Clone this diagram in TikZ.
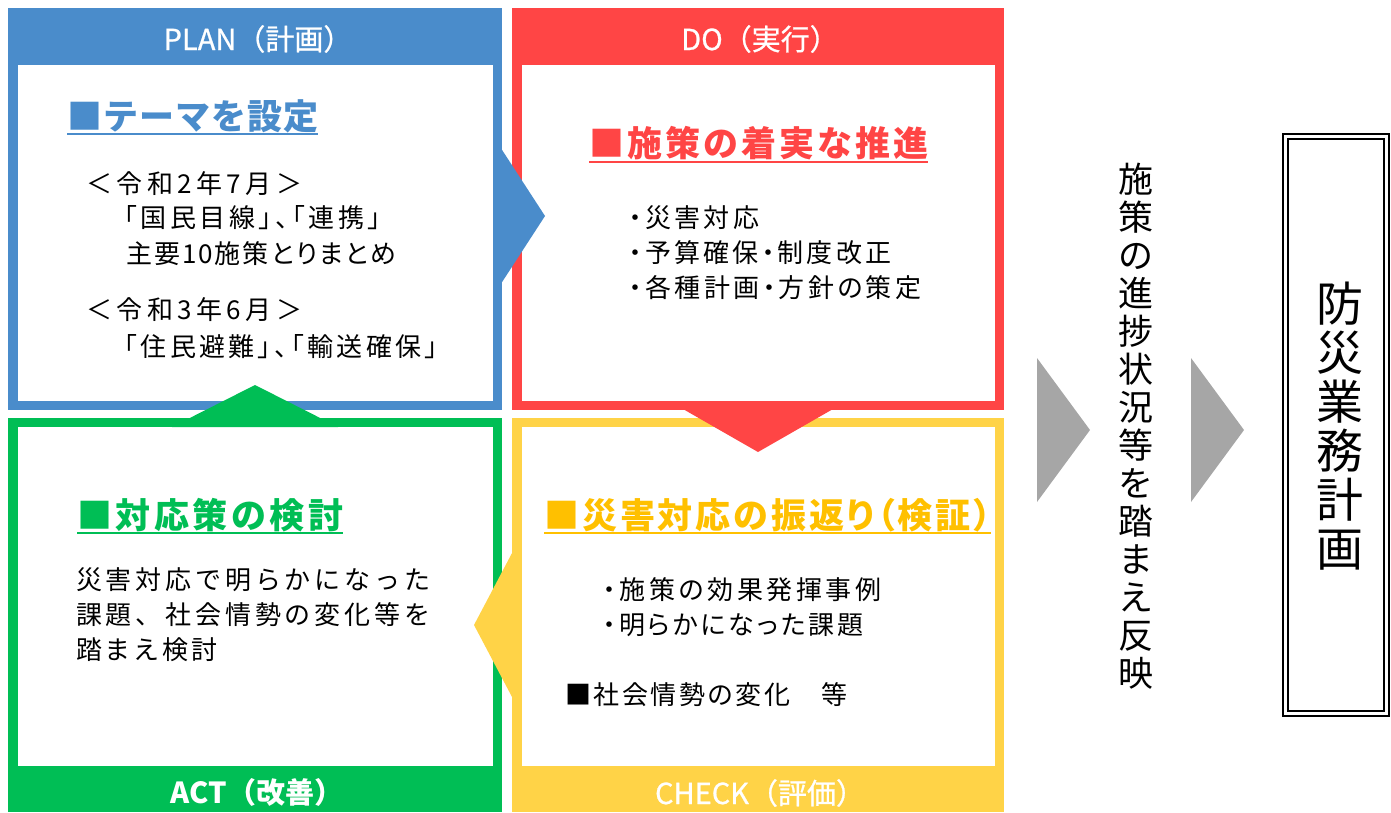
\documentclass[tikz,border=0pt]{standalone}
\usepackage{fontspec}
\setmainfont{Noto Sans CJK JP}
\newfontfamily\jpp{Noto Sans CJK JP}[RawFeature=+palt]
\newfontfamily\jpm{Noto Sans CJK JP}[FakeBold=0.8]
\usetikzlibrary{calc}
\definecolor{cblue}{HTML}{4A8CCB}
\definecolor{cred}{HTML}{FF4545}
\definecolor{cgreen}{HTML}{00BE55}
\definecolor{cyellow}{HTML}{FFD347}
\definecolor{cgold}{HTML}{FFC000}
\definecolor{cgrey}{HTML}{A6A6A6}
\makeatletter
\newcommand\spread[2]{\hbox to #1{\@tfor\tr@c:=#2\do{\tr@c\hfil}\unskip}}
\makeatother
\tikzset{
  outerbox/.style={anchor=north west,inner sep=0,outer sep=0},
  innerbox/.style={fill=white,anchor=north west,inner sep=0,outer sep=0},
  hdr/.style={text=white,inner sep=0,font=\jpm\fontsize{29}{32}\selectfont},
  ttl/.style={anchor=west,inner sep=0,font=\bfseries\fontsize{35}{40}\selectfont},
  bodyp/.style={anchor=west,inner sep=0,font=\jpp\fontsize{26}{30}\selectfont},
  bodyl/.style={anchor=west,inner sep=0,font=\fontsize{26}{30}\selectfont},
  ul/.style={line width=1.6pt}
}
\begin{document}
\begin{tikzpicture}[x=1pt,y=-1pt]
\useasboundingbox (0,0) rectangle (1391,812);
% boxes
\node[outerbox,fill=cblue,minimum width=494pt,minimum height=402pt] (plan) at (8,8) {};
\node[innerbox,minimum width=475pt,minimum height=336pt] (planin) at (18,65) {};
\node[outerbox,fill=cred,minimum width=492pt,minimum height=402pt] (do) at (512,8) {};
\node[innerbox,minimum width=473pt,minimum height=336pt] (doin) at (522,65) {};
\node[outerbox,fill=cgreen,minimum width=494pt,minimum height=394pt] (act) at (8,418) {};
\node[innerbox,minimum width=475pt,minimum height=339pt] (actin) at (18,427) {};
\node[outerbox,fill=cyellow,minimum width=492pt,minimum height=394pt] (check) at (512,418) {};
\node[innerbox,minimum width=473pt,minimum height=339pt] (checkin) at (522,427) {};
% cycle arrows
\fill[cblue] (493,136) -- (545,216) -- (493,296) -- cycle;
\fill[cred] (669,401) -- (758,452) -- (847,401) -- cycle;
\fill[cyellow] (521,536) -- (474,625) -- (521,714) -- cycle;
\fill[cgreen] (172,427) -- (255,385) -- (338,427) -- cycle;
% header labels
\node[hdr] (planlbl) at (258,39) {PLAN（計画）};
\node[hdr] (dolbl) at (760,39) {DO（実行）};
\node[hdr,font=\bfseries\fontsize{29}{32}\selectfont] (actlbl) at (257,792) {ACT（改善）};
\node[hdr] (checklbl) at (760,793) {CHECK（評価）};
% titles
\node[ttl,text=cblue] (t1) at (67,116) {\spread{251pt}{■テーマを設定}};
\draw[ul,cblue] ([yshift=-18pt]t1.west) -- ([yshift=-18pt]t1.east);
\node[ttl,text=cred] (t2) at (589,143) {\spread{339pt}{■施策の着実な推進}};
\draw[ul,cred] ([yshift=-19pt]t2.west) -- ([yshift=-19pt]t2.east);
\node[ttl,text=cgreen] (t3) at (77,515) {\spread{266pt}{■対応策の検討}};
\draw[ul,cgreen] ([yshift=-18pt]t3.west) -- ([yshift=-18pt]t3.east);
\node[ttl,text=cgold,font=\jpp\bfseries\fontsize{35}{40}\selectfont] (t4) at (544,515) {\spread{447pt}{■災害対応の振返り（検証）}};
\draw[ul,cgold] ([yshift=-18pt]t4.west) -- ([yshift=-18pt]t4.east);
% PLAN body
\node[bodyp] (p1) at (86,184) {\spread{216pt}{＜令和2年7月＞}};
\node[bodyp] (p2) at (124,218) {\spread{257pt}{「国民目線」、「連携」}};
\node[bodyp] (p3) at (126,254) {\spread{270pt}{主要10施策とりまとめ}};
\node[bodyp] (p4) at (86,310) {\spread{216pt}{＜令和3年6月＞}};
\node[bodyp] (p5) at (124,347) {\spread{314pt}{「住民避難」、「輸送確保」}};
% DO body
\node[bodyp] (d1) at (629,218) {\spread{130pt}{・災害対応}};
\node[bodyp] (d2) at (629,253) {\spread{262pt}{・予算確保・制度改正}};
\node[bodyp] (d3) at (629,288) {\spread{292pt}{・各種計画・方針の策定}};
% ACT body
\node[bodyl] (a1) at (76,580) {\spread{354pt}{災害対応で明らかになった}};
\node[bodyl] (a2) at (76,615) {\spread{354pt}{課題、社会情勢の変化等を}};
\node[bodyl] (a3) at (76,650) {\spread{141pt}{踏まえ検討}};
% CHECK body
\node[bodyp] (c1) at (603,590) {\spread{278pt}{・施策の効果発揮事例}};
\node[bodyp] (c2) at (603,625) {\spread{260pt}{・明らかになった課題}};
\node[bodyp] (c3) at (565,695) {\spread{282pt}{■社会情勢の変化　等}};
% right part
\fill[cgrey] (1037,358) -- (1090,430) -- (1037,502) -- cycle;
\fill[cgrey] (1191,358) -- (1244,430) -- (1191,502) -- cycle;
\node[align=center,inner sep=0,font=\fontsize{35}{38}\selectfont] (vtext) at (1136,426)
  {施\\策\\の\\進\\捗\\状\\況\\等\\を\\踏\\ま\\え\\反\\映};
\node[draw,line width=2pt,double,double distance=3pt,minimum width=101pt,minimum height=577pt,inner sep=0] (plan2) at (1336,425) {};
\node[align=center,inner sep=0,font=\fontsize{47}{49}\selectfont] (plantext) at (1340,426)
  {防\\災\\業\\務\\計\\画};
\end{tikzpicture}
\end{document}
